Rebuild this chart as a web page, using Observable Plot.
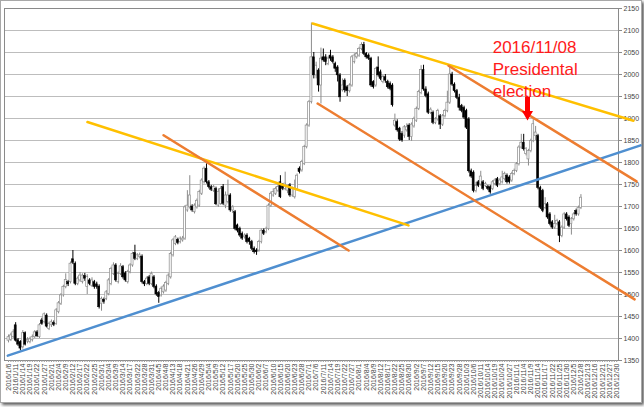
<!DOCTYPE html>
<html><head><meta charset="utf-8">
<script src="https://cdn.jsdelivr.net/npm/d3@7"></script>
<script src="https://cdn.jsdelivr.net/npm/@observablehq/plot@0.6"></script>
<style>
html,body{margin:0;padding:0;background:#fff;}
#frame{position:absolute;left:0;top:0;width:640px;height:401px;border:1px solid #a8a8a8;box-shadow:2px 2px 3px rgba(0,0,0,0.65);background:#fff;}
#chart{position:absolute;left:0;top:0;}
</style></head><body>
<div id="frame"></div>
<div id="chart"></div>
<script>
// trading-day tick labels (every third trading day)
const tickLabels = ["2016/1/6","2016/1/11","2016/1/14","2016/1/19","2016/1/22","2016/1/27","2016/2/1","2016/2/4","2016/2/9","2016/2/12","2016/2/17","2016/2/22","2016/2/25","2016/3/1","2016/3/4","2016/3/9","2016/3/14","2016/3/17","2016/3/22","2016/3/28","2016/3/31","2016/4/5","2016/4/8","2016/4/13","2016/4/18","2016/4/21","2016/4/26","2016/4/29","2016/5/4","2016/5/9","2016/5/12","2016/5/17","2016/5/20","2016/5/25","2016/5/30","2016/6/2","2016/6/7","2016/6/10","2016/6/15","2016/6/20","2016/6/23","2016/6/28","2016/7/1","2016/7/6","2016/7/11","2016/7/14","2016/7/19","2016/7/22","2016/7/27","2016/8/1","2016/8/4","2016/8/9","2016/8/12","2016/8/17","2016/8/22","2016/8/25","2016/8/30","2016/9/2","2016/9/7","2016/9/12","2016/9/15","2016/9/20","2016/9/23","2016/9/28","2016/10/3","2016/10/6","2016/10/11","2016/10/14","2016/10/19","2016/10/24","2016/10/27","2016/11/1","2016/11/4","2016/11/9","2016/11/14","2016/11/17","2016/11/22","2016/11/25","2016/11/30","2016/12/5","2016/12/8","2016/12/13","2016/12/16","2016/12/21","2016/12/27","2016/12/30"];
const tradingDays = 256;
const yTicks = [1350,1400,1450,1500,1550,1600,1650,1700,1750,1800,1850,1900,1950,2000,2050,2100,2150];

// daily OHLC, one entry per trading day from 2016/1/6
const open = [1395,1397,1403,1430,1396,1392,1380,1412,1393,1392,1396,1403,1414,1403,1441,1437,1452,1422,1430,1435,1433,1460,1479,1498,1517,1528,1528,1580,1570,1524,1532,1528,1542,1517,1532,1520,1528,1523,1518,1479,1488,1490,1501,1524,1547,1566,1528,1547,1562,1548,1528,1551,1566,1594,1581,1585,1586,1528,1524,1539,1524,1539,1518,1503,1498,1505,1509,1524,1539,1589,1615,1624,1619,1623,1627,1691,1698,1700,1687,1698,1702,1729,1755,1786,1755,1744,1736,1740,1702,1706,1744,1702,1710,1725,1691,1687,1657,1649,1638,1630,1634,1627,1619,1604,1600,1600,1619,1645,1642,1649,1702,1725,1729,1736,1755,1748,1740,1736,1748,1725,1721,1740,1786,1782,1797,1835,1884,1937,2039,1998,2009,1975,2039,2039,2024,2043,2039,2024,2016,1998,1964,1986,1971,1962,1975,2028,2039,2043,2058,2067,2047,2043,2036,1983,1975,2016,2005,1983,1994,1983,1979,1975,1884,1892,1877,1865,1861,1873,1884,1858,1882,1895,1922,1958,2010,1966,1955,1913,1913,1890,1898,1905,1886,1905,1917,1936,2000,1977,1962,1947,1928,1924,1917,1898,1780,1777,1735,1755,1750,1755,1747,1744,1744,1740,1751,1762,1751,1755,1762,1770,1766,1759,1774,1781,1796,1834,1845,1819,1807,1826,1849,1860,1860,1742,1735,1697,1705,1682,1664,1652,1660,1664,1633,1652,1682,1675,1660,1671,1690,1682,1697];
const high = [1408,1412,1420,1436,1400,1395,1418,1415,1402,1403,1408,1418,1418,1434,1446,1458,1456,1437,1442,1440,1468,1484,1502,1521,1547,1532,1574,1600,1574,1540,1550,1547,1548,1545,1536,1538,1532,1528,1522,1494,1492,1509,1536,1562,1572,1570,1551,1570,1566,1552,1555,1570,1596,1612,1593,1594,1590,1532,1540,1543,1551,1543,1522,1507,1517,1522,1530,1547,1596,1627,1634,1628,1631,1632,1702,1736,1770,1704,1706,1717,1737,1763,1790,1797,1759,1748,1748,1744,1740,1745,1750,1733,1760,1729,1702,1691,1660,1653,1642,1638,1638,1630,1623,1608,1604,1623,1649,1649,1653,1706,1733,1740,1744,1750,1770,1752,1778,1748,1752,1744,1760,1774,1790,1805,1839,1888,1941,2117,2050,2028,2013,2060,2058,2045,2040,2055,2043,2028,2020,2002,1990,1990,1975,1979,2043,2047,2050,2062,2072,2073,2050,2047,2039,1986,2015,2040,2010,1998,2000,1987,1983,1979,1910,1897,1880,1870,1884,1888,1888,1890,1903,1926,1964,2020,2021,1972,1960,1924,1917,1902,1921,1909,1909,1921,1962,2016,2005,1981,1966,1955,1932,1928,1921,1902,1785,1781,1755,1759,1780,1759,1755,1748,1748,1759,1763,1766,1763,1780,1778,1774,1770,1778,1785,1800,1838,1864,1864,1834,1830,1853,1898,1882,1864,1746,1739,1720,1709,1686,1668,1680,1671,1668,1656,1686,1686,1679,1675,1686,1694,1701,1727];
const low = [1390,1393,1400,1392,1382,1372,1376,1383,1388,1388,1392,1400,1402,1400,1430,1433,1424,1418,1425,1427,1430,1456,1475,1494,1513,1518,1524,1568,1520,1520,1528,1524,1530,1500,1520,1516,1512,1512,1467,1462,1478,1486,1497,1520,1543,1528,1524,1543,1535,1528,1524,1547,1562,1577,1577,1581,1524,1518,1520,1520,1520,1513,1496,1480,1494,1501,1505,1520,1535,1585,1611,1613,1615,1619,1623,1687,1694,1687,1683,1694,1698,1725,1751,1751,1740,1734,1732,1702,1698,1702,1702,1695,1706,1687,1684,1645,1640,1630,1623,1626,1615,1612,1600,1592,1589,1596,1615,1634,1638,1645,1698,1721,1725,1732,1718,1736,1736,1729,1721,1721,1717,1736,1774,1778,1793,1831,1880,1933,1990,1990,1960,1933,2028,2020,2020,2030,2024,2005,1983,1937,1960,1958,1950,1958,1971,2024,2035,2039,2054,2043,2035,2032,1971,1967,1971,1994,1986,1979,1980,1967,1963,1926,1880,1869,1848,1846,1855,1869,1850,1848,1878,1891,1918,1954,1962,1947,1909,1909,1886,1886,1894,1875,1882,1901,1913,1932,1973,1958,1943,1917,1913,1898,1875,1776,1764,1731,1731,1743,1746,1736,1743,1736,1728,1736,1747,1743,1747,1751,1758,1751,1751,1755,1770,1777,1792,1830,1826,1815,1792,1822,1845,1850,1738,1693,1686,1693,1671,1656,1648,1648,1656,1618,1629,1648,1667,1652,1635,1667,1678,1678,1693];
const close = [1403,1407,1414,1395,1386,1377,1412,1386,1397,1398,1403,1414,1405,1430,1433,1455,1427,1433,1437,1431,1464,1480,1498,1517,1533,1523,1570,1572,1524,1536,1543,1543,1536,1540,1524,1532,1517,1517,1471,1490,1483,1505,1532,1558,1566,1532,1547,1564,1539,1532,1551,1566,1592,1581,1589,1589,1528,1523,1536,1524,1547,1517,1500,1494,1513,1518,1526,1543,1592,1623,1630,1617,1627,1627,1698,1702,1725,1691,1702,1713,1733,1759,1786,1755,1744,1738,1744,1705,1733,1740,1706,1725,1725,1691,1698,1649,1645,1634,1627,1634,1619,1619,1604,1596,1596,1619,1645,1638,1649,1702,1729,1733,1740,1744,1721,1740,1752,1744,1725,1740,1740,1770,1778,1801,1835,1884,1937,2039,1998,2020,1975,2036,2032,2028,2036,2036,2028,2013,1998,1948,1975,1964,1962,1975,2039,2043,2047,2058,2067,2047,2039,2036,1975,1971,2013,1998,1990,1994,1986,1971,1967,1930,1895,1873,1852,1850,1880,1880,1858,1886,1899,1922,1960,2010,1966,1951,1913,1920,1890,1898,1917,1886,1905,1917,1936,2000,1977,1962,1947,1924,1917,1902,1879,1780,1768,1735,1747,1747,1768,1740,1751,1740,1732,1755,1759,1747,1759,1766,1774,1755,1755,1774,1781,1796,1834,1845,1830,1830,1826,1849,1887,1868,1742,1697,1690,1705,1675,1660,1652,1660,1667,1633,1652,1682,1671,1656,1671,1682,1682,1697,1720];

// trend lines: [trading-day index, price]
const blueLine = [[-0.3,1361],[265,1839]];
const yellowLeft = [[33.1,1892],[167.7,1657]];
const orangeLeft = [[65,1862],[142.6,1600]];
const yellowRight = [[127.5,2116],[262,1895]];
const orangeRight = [[184.5,2020],[263.3,1757]];
const orangeLow = [[129.6,1934],[262.5,1489]];

// annotation
const noteText = ["2016/11/08","Presidental","election"];
const notePos = [203.0, 2084];
const arrowPos = {i: 217.6, top: 1948, base: 1912, tip: 1910};

const candles = open.map((o, i) => ({i, o, h: high[i], l: low[i], c: close[i]}));
const up = candles.filter(d => d.c >= d.o);
const down = candles.filter(d => d.c < d.o);
const allDays = d3.range(tradingDays);
const labelDays = tickLabels.map((_, k) => k * 3);
const seg = (pts) => pts.map(([i, v]) => ({i, v}));

const plot = Plot.plot({
  width: 644, height: 407,
  marginLeft: 4, marginRight: 26, marginTop: 8, marginBottom: 47,
  x: {type: "linear", domain: [-1.68, 255.75], axis: null, label: null},
  y: {domain: [1350, 2150], axis: null, label: null},
  style: {background: "transparent", fontFamily: "'Liberation Sans', Arial, sans-serif", color: "#444"},
  marks: [
    Plot.gridY(yTicks, {stroke: "#bdbdbd", strokeOpacity: 1, strokeWidth: 1}),
    Plot.frame({stroke: "#8a8a8a"}),
    Plot.axisY(yTicks, {anchor: "right", label: null, tickSize: 3, tickPadding: 2, fontSize: 7, stroke: "#8a8a8a", fill: "#444", tickFormat: d => String(d)}),
    Plot.axisX(allDays, {anchor: "bottom", label: null, tickSize: 2, stroke: "#9a9a9a", tickFormat: () => ""}),
    Plot.axisX(labelDays, {anchor: "bottom", label: null, tickSize: 0, tickPadding: 3, tickRotate: -90, fontSize: 7, fill: "#444", tickFormat: d => tickLabels[d / 3]}),
    // wicks
    Plot.ruleX(up, {x: "i", y1: "l", y2: "h", stroke: "#8c8c8c", strokeWidth: 1}),
    Plot.ruleX(down, {x: "i", y1: "l", y2: "h", stroke: "#000", strokeWidth: 1}),
    // bodies
    Plot.rect(up, {x1: d => d.i - 0.42, x2: d => d.i + 0.42, y1: "o", y2: "c", fill: "#fff", stroke: "#8c8c8c", strokeWidth: 0.7}),
    Plot.rect(down, {x1: d => d.i - 0.42, x2: d => d.i + 0.42, y1: "o", y2: "c", fill: "#000", stroke: "#000", strokeWidth: 0.5}),
    // trend lines
    Plot.line(seg(blueLine), {x: "i", y: "v", stroke: "#4f8fd0", strokeWidth: 2.5}),
    Plot.line(seg(yellowLeft), {x: "i", y: "v", stroke: "#ffc000", strokeWidth: 2.5}),
    Plot.line(seg(orangeLeft), {x: "i", y: "v", stroke: "#ed7d31", strokeWidth: 2.5}),
    Plot.line(seg(yellowRight), {x: "i", y: "v", stroke: "#ffc000", strokeWidth: 2.5}),
    Plot.line(seg(orangeRight), {x: "i", y: "v", stroke: "#ed7d31", strokeWidth: 2.5}),
    Plot.line(seg(orangeLow), {x: "i", y: "v", stroke: "#ed7d31", strokeWidth: 2.5}),
    // annotation
    Plot.text([noteText.join("\n")], {x: () => notePos[0], y: () => notePos[1], text: d => d, textAnchor: "start", lineAnchor: "top", fill: "#ff1a1a", fontSize: 17, lineHeight: 1.3}),
    Plot.ruleX([arrowPos], {x: "i", y1: "top", y2: "base", stroke: "#ff0000", strokeWidth: 5}),
    Plot.dot([arrowPos], {x: "i", y: "tip", symbol: "triangle", rotate: 180, r: 4.1, fill: "#ff0000", stroke: "none"})
  ]
});
document.getElementById("chart").appendChild(plot);
</script>
</body></html>
